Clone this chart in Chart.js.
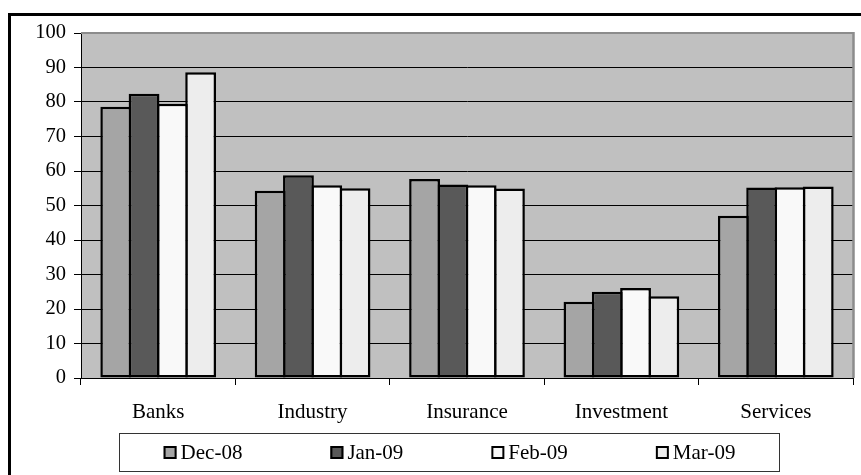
<!DOCTYPE html>
<html>
<head>
<meta charset="utf-8">
<style>
  html, body { margin: 0; padding: 0; background: #ffffff; }
  #wrap { position: relative; width: 861px; height: 475px; overflow: hidden; }
</style>
<script src="https://cdn.jsdelivr.net/npm/chart.js@4/dist/chart.umd.min.js"></script>
</head>
<body>
<div id="wrap"><canvas id="chart" width="861" height="475"></canvas></div>
<script>
// Sector indices by month
const categories = ['Banks', 'Industry', 'Insurance', 'Investment', 'Services'];
const seriesNames = ['Dec-08', 'Jan-09', 'Feb-09', 'Mar-09'];
const dec08 = [78.6, 54.3, 57.7, 22.1, 47.0];
const jan09 = [82.4, 58.8, 56.1, 25.0, 55.2];
const feb09 = [79.5, 55.9, 55.9, 26.1, 55.3];
const mar09 = [88.6, 55.0, 54.9, 23.7, 55.5];
const yMin = 0, yMax = 100, yStep = 10;

const seriesValues = [dec08, jan09, feb09, mar09];
const seriesColors = ['#A5A5A5', '#595959', '#F9F9F9', '#EDEDED'];
const FONT = '"Liberation Serif", "Times New Roman", serif';

// Gray plot background, gray top/right frame and the outer page frame
const framePlugin = {
  id: 'frame',
  beforeDraw(chart) {
    const { ctx, chartArea: a } = chart;
    ctx.save();
    ctx.fillStyle = '#C0C0C0';
    ctx.fillRect(a.left, a.top, a.right - a.left, a.bottom - a.top);
    ctx.restore();
  },
  beforeDatasetsDraw(chart) {
    const { ctx, chartArea: a } = chart;
    ctx.save();
    ctx.strokeStyle = '#8C8C8C';
    ctx.lineWidth = 2;
    ctx.beginPath();
    ctx.moveTo(a.left, a.top);
    ctx.lineTo(a.right, a.top);
    ctx.stroke();
    ctx.lineWidth = 2.5;
    ctx.beginPath();
    ctx.moveTo(a.right + 0.5, a.top - 1);
    ctx.lineTo(a.right + 0.5, a.bottom);
    ctx.stroke();
    ctx.restore();
  },
  afterDraw(chart) {
    const { ctx } = chart;
    ctx.save();
    // outer frame
    ctx.strokeStyle = '#000';
    ctx.lineWidth = 3;
    ctx.strokeRect(9.5, 14.5, 920, 520);

    // legend box
    const box = { x: 119.5, y: 433.5, w: 660, h: 38 };
    ctx.lineWidth = 1;
    ctx.strokeStyle = '#333';
    ctx.strokeRect(box.x, box.y, box.w, box.h);

    ctx.font = '21px ' + FONT;
    ctx.textBaseline = 'middle';
    ctx.textAlign = 'left';
    const sq = 13, sqGap = 4, itemGap = 88;
    const widths = seriesNames.map(n => ctx.measureText(n).width);
    const total = widths.reduce((s, w) => s + w + sq + sqGap, 0) + itemGap * (seriesNames.length - 1);
    let x = box.x + box.w / 2 - total / 2;
    const cy = 453;
    seriesNames.forEach((name, i) => {
      ctx.fillStyle = seriesColors[i];
      ctx.fillRect(x, cy - 7, sq, sq);
      ctx.strokeStyle = '#000';
      ctx.lineWidth = 2;
      ctx.strokeRect(x + 1, cy - 6, sq - 2, sq - 2);
      ctx.fillStyle = '#000';
      ctx.fillText(name, x + sq + sqGap, cy);
      x += sq + sqGap + widths[i] + itemGap;
    });
    ctx.restore();
  }
};

new Chart(document.getElementById('chart'), {
  type: 'bar',
  data: {
    labels: categories,
    datasets: seriesNames.map((name, i) => ({
      label: name,
      data: seriesValues[i],
      backgroundColor: seriesColors[i],
      borderColor: '#000',
      borderWidth: 2.5,
      borderSkipped: false,
      categoryPercentage: 0.733,
      barPercentage: 1.09
    }))
  },
  options: {
    responsive: false,
    animation: false,
    devicePixelRatio: 1,
    layout: { padding: { left: 0, top: 33, right: 8, bottom: 0 } },
    plugins: {
      legend: { display: false },
      tooltip: { enabled: false }
    },
    scales: {
      x: {
        offset: true,
        grid: {
          offset: true,
          drawOnChartArea: false,
          drawTicks: true,
          tickLength: 7,
          tickColor: '#000',
          lineWidth: 1
        },
        border: { display: true, color: '#000', width: 1 },
        ticks: {
          color: '#000',
          font: { family: FONT, size: 21 },
          padding: 15,
          maxRotation: 0
        },
        afterFit(s) { s.height = 97; }
      },
      y: {
        min: yMin,
        max: yMax,
        ticks: {
          stepSize: yStep,
          color: '#000',
          font: { family: FONT, size: 20.5 },
          padding: 8
        },
        grid: {
          color: c => (c.tick && c.tick.value === yMax) ? 'rgba(0,0,0,0)' : '#000',
          tickColor: '#000',
          tickLength: 7,
          lineWidth: 1
        },
        border: { display: true, color: '#000', width: 1 },
        afterFit(s) { s.width = 81; }
      }
    }
  },
  plugins: [framePlugin]
});
</script>
</body>
</html>
